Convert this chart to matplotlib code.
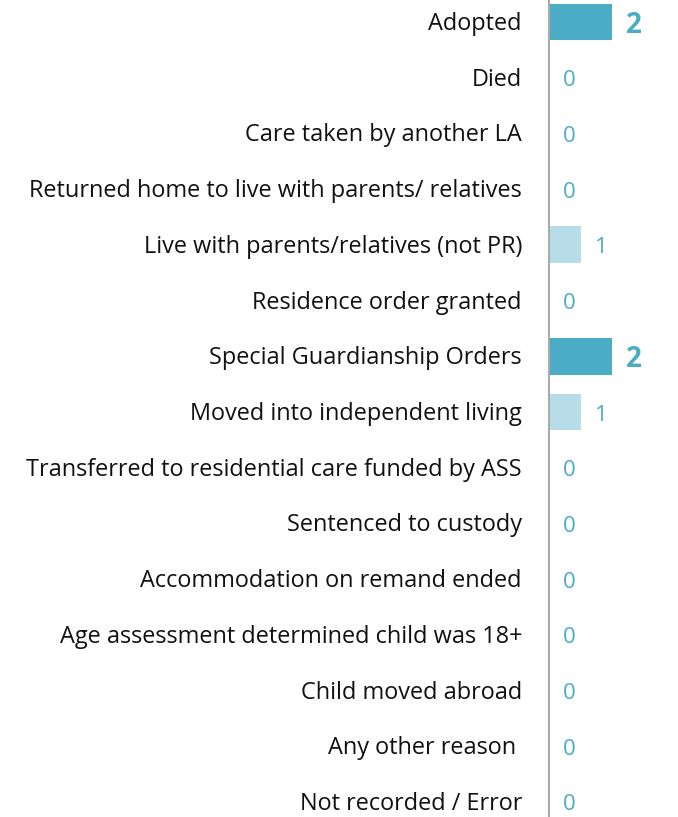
import matplotlib
matplotlib.use("Agg")
import matplotlib.pyplot as plt

categories = [
    "Adopted",
    "Died",
    "Care taken by another LA",
    "Returned home to live with parents/ relatives",
    "Live with parents/relatives (not PR)",
    "Residence order granted",
    "Special Guardianship Orders",
    "Moved into independent living",
    "Transferred to residential care funded by ASS",
    "Sentenced to custody",
    "Accommodation on remand ended",
    "Age assessment determined child was 18+",
    "Child moved abroad",
    "Any other reason ",
    "Not recorded / Error",
]
values = [2, 0, 0, 0, 1, 0, 2, 1, 0, 0, 0, 0, 0, 0, 0]

dark = "#4BACC6"
light = "#B7DDE8"

plt.rcParams['font.family'] = ['Open Sans', 'DejaVu Sans']

fig = plt.figure(figsize=(6.78, 8.17), dpi=100)
ax = fig.add_axes([549/678, 0, 1 - 549/678, 1])

vmax = max(values)
colors = [dark if v == vmax else light for v in values]
y = list(range(len(categories)))
ax.barh(y, values, height=0.66, color=colors, left=0)

unit_px = 31.5
ax.set_xlim(0, (678 - 549) / unit_px)
sp = 55.7
ax.set_ylim(14 + 15/sp, -22/sp)

for yi, v in zip(y, values):
    bold = v == vmax
    ax.annotate(str(v), (v, yi), xytext=(14, -3), textcoords="offset pixels",
                va="center", ha="left", color=dark,
                fontsize=20 if bold else 16, fontweight="bold" if bold else "normal")
    ax.annotate(categories[yi], (0, yi), xytext=(-27, -2), textcoords="offset pixels",
                va="center", ha="right", color="#111111", fontsize=16.9, annotation_clip=False)

for s in ["top", "right", "bottom"]:
    ax.spines[s].set_visible(False)
ax.spines["left"].set_color("#ABABAB")
ax.spines["left"].set_linewidth(1.5)
ax.set_xticks([])
ax.set_yticks([])

fig.savefig("out.png", dpi=100)
